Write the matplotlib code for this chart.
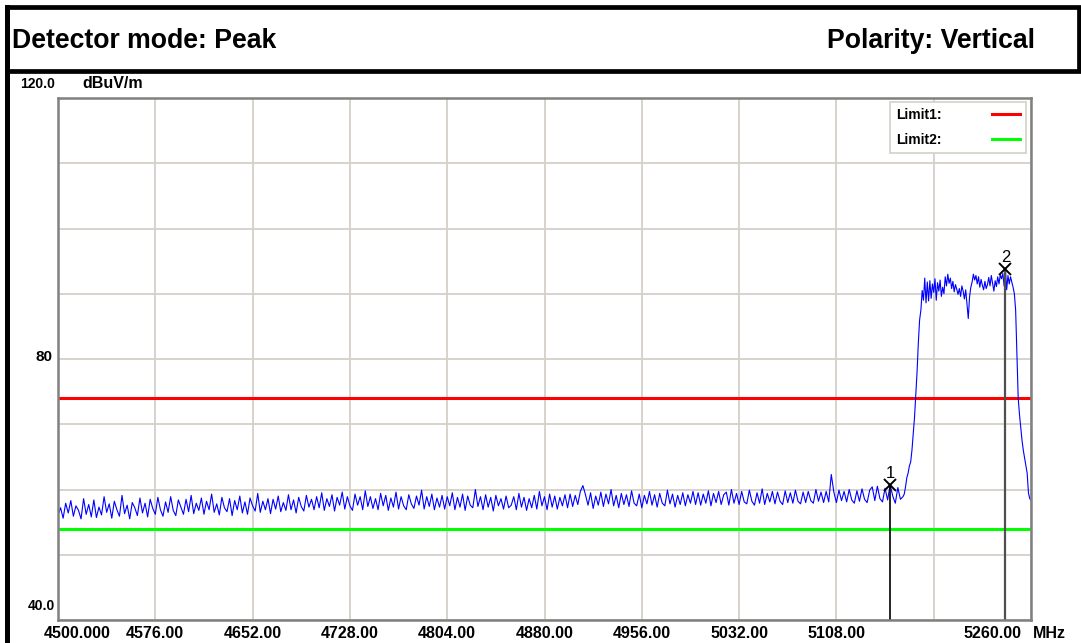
import matplotlib.pyplot as plt
from matplotlib.lines import Line2D
from matplotlib.patches import Rectangle
import numpy as np

# Header texts
detector_text = "Detector mode: Peak"
polarity_text = "Polarity: Vertical"

# Axis range / labels
y_unit = "dBuV/m"
x_unit = "MHz"
y_min, y_max = 40.0, 120.0
y_labels = {120.0: "120.0", 80.0: "80", 40.0: "40.0"}
x_grid = [4500, 4576, 4652, 4728, 4804, 4880, 4956, 5032, 5108, 5184, 5260]
x_label_vals = [4500, 4576, 4652, 4728, 4804, 4880, 4956, 5032, 5108, 5260]
x_label_txt = ["4500.000", "4576.00", "4652.00", "4728.00", "4804.00",
               "4880.00", "4956.00", "5032.00", "5108.00", "5260.00"]

# Limits
limit1 = 74.0
limit2 = 54.0

# Markers
marker_names = ["1", "2"]
marker_freqs = [5150.0, 5240.0]
marker_levels = [60.7, 93.8]

# Trace, 4500..5158 MHz in 2 MHz steps
trace_lo = [
    56.0, 57.2, 55.6, 57.9, 56.4, 58.3, 55.9, 57.5, 56.8, 55.5, 58.6, 56.2, 57.7, 55.8, 58.4, 55.7, 57.3, 56.1, 58.9, 56.5,
    57.8, 55.6, 58.2, 56.9, 55.9, 59.1, 56.3, 57.6, 55.5, 58.0, 57.2, 56.0, 58.7, 56.4, 57.9, 55.8, 58.5, 57.1, 56.2, 58.8,
    56.9, 55.9, 58.1, 56.5, 58.9, 56.8, 56.0, 58.4, 57.3, 56.2,
    58.5, 56.6, 59.1, 56.3, 57.9, 56.8, 58.7, 56.2, 58.2, 56.9, 59.3, 56.5, 57.8, 56.1, 58.8, 57.2, 56.6, 58.6, 56.0, 58.3,
    56.9, 59.0, 56.4, 58.1, 56.2, 58.7, 57.5, 56.7, 59.4, 56.5, 58.2, 56.9, 58.6, 56.3, 58.5, 57.0, 59.0, 56.6, 58.0, 56.8,
    59.2, 56.9, 58.4, 56.4, 58.8, 57.4, 56.7, 59.1, 57.3, 58.5,
    56.9, 58.9, 57.2, 59.5, 56.8, 58.6, 57.4, 59.2, 56.7, 58.8, 57.6, 59.6, 57.0, 58.9, 57.5, 56.8, 59.3, 57.6, 58.9, 56.9,
    59.8, 57.4, 58.9, 57.1, 58.6, 56.9, 59.4, 57.5, 59.1, 56.8, 58.7, 57.3, 59.6, 57.0, 58.9, 57.5, 56.9, 59.2, 57.8, 57.1,
    59.0, 57.6, 59.9, 57.0, 58.9, 57.4, 59.3, 56.9, 58.7, 57.3,
    59.1, 57.0, 58.9, 57.5, 59.5, 56.9, 58.8, 57.3, 59.3, 56.8, 59.0, 57.6, 57.2, 60.0, 57.4, 58.9, 56.9, 59.2, 57.3, 58.8,
    56.7, 59.1, 57.5, 58.6, 57.0, 59.0, 57.2, 57.6, 58.9, 56.9, 59.4, 57.3, 58.8, 56.8, 58.6, 57.2, 59.1, 57.0, 59.7, 57.5,
    58.9, 56.9, 59.3, 57.3, 59.0, 57.0, 58.8, 57.5, 59.2, 57.2,
    59.3, 57.4, 59.1, 57.7, 59.7, 60.6, 59.2, 57.6, 59.5, 57.1, 59.0, 57.6, 59.6, 57.4, 59.3, 57.8, 60.0, 57.5, 59.1, 57.2,
    59.4, 57.7, 59.2, 57.4, 59.8, 57.9, 57.5, 59.3, 57.2, 59.1, 57.8, 59.7, 57.6, 59.2, 57.3, 59.4, 57.9, 57.5, 59.9, 57.8,
    59.3, 57.3, 59.1, 57.7, 59.5, 57.5, 59.2, 57.9, 59.7, 57.7,
    59.5, 57.6, 59.3, 57.9, 59.8, 57.5, 59.4, 58.0, 59.7, 57.7, 59.2, 59.6, 57.6, 60.0, 57.9, 59.4, 57.7, 59.7, 58.1, 57.8,
    59.9, 58.2, 57.6, 59.5, 57.9, 60.1, 57.7, 59.4, 58.1, 59.7, 57.8, 59.6, 58.2, 57.7, 59.8, 58.0, 59.5, 57.9, 59.9, 58.2,
    57.8, 59.6, 58.0, 59.7, 58.3, 57.9, 60.0, 58.2, 59.6, 58.0,
    59.7, 58.1, 62.3, 59.6, 58.0, 59.9, 58.3, 59.7, 58.1, 60.0, 58.4, 57.9, 59.8, 58.2, 60.1, 58.5, 58.0, 59.9, 60.4, 58.3,
    60.5, 58.6, 58.1, 60.2, 58.4, 60.7, 59.0, 57.9, 60.3, 58.5,
]
# Trace, 5160..5260 MHz in 1 MHz steps
trace_hi = [
    58.9, 59.3, 60.4, 61.8, 62.5, 63.6, 64.2, 66.0, 68.5, 71.0, 74.5, 78.0, 82.5, 86.0, 87.5, 90.5, 89.0,
    92.4, 88.6, 91.8, 88.9, 92.0, 89.3, 91.5, 90.2, 92.3, 89.0, 91.7, 90.4, 92.1, 89.6, 91.0, 90.0, 92.6, 91.2, 93.0, 91.6,
    92.4, 90.8, 91.9, 90.3, 91.4, 90.7, 89.9, 90.8, 89.6, 91.2, 90.4, 89.2, 90.6, 88.4, 86.2, 89.5, 91.0, 91.8, 93.0, 92.1,
    92.8, 91.5, 92.6, 91.0, 92.2, 91.3, 90.6, 91.9, 90.8, 91.4, 92.5, 91.2, 92.8, 91.6, 90.4, 92.0, 91.1, 92.6, 91.5, 92.9,
    92.3, 93.1, 91.2, 93.8, 90.6, 92.8, 91.5, 92.6, 91.8, 91.0,
    90.0, 87.5, 81.0, 74.0, 71.5, 69.5, 67.5, 66.0, 64.8, 63.5, 62.5, 59.5, 58.6, 58.4,
]

freq = np.concatenate([np.arange(4500, 5160, 2), np.arange(5160, 5160 + len(trace_hi), 1)])
level = np.array(trace_lo + trace_hi)

lab_font = 'Liberation Sans'
W, H = 1081, 643

fig = plt.figure(figsize=(W / 100, H / 100), dpi=100)
fig.patch.set_facecolor('white')

# header frame
fig.add_artist(Rectangle((7.5 / W, 1 - 70.8 / H), (1079 - 7.5) / W, (70.8 - 7) / H,
                         transform=fig.transFigure, fill=False, edgecolor='black', lw=3.4))
fig.add_artist(Line2D([7.5 / W, 7.5 / W], [0, 1 - 7 / H], transform=fig.transFigure,
                      color='black', lw=3.6))
fig.text(12 / W, 1 - 48 / H, detector_text, fontsize=19.2, fontweight='bold',
         family='Liberation Sans', va='baseline', ha='left')
fig.text(1035 / W, 1 - 48 / H, polarity_text, fontsize=19.2, fontweight='bold',
         family='Liberation Sans', va='baseline', ha='right')

ax = fig.add_axes([58 / W, (H - 620) / H, 973 / W, 522 / H])
ax.set_xlim(x_grid[0], x_grid[-1])
ax.set_ylim(y_min, y_max)
ax.set_xticks(x_grid)
ax.set_yticks(np.arange(y_min, y_max + 1, 10))
ax.tick_params(length=0, labelbottom=False, labelleft=False)
ax.grid(True, color='#d4d0c8', lw=1.3)
ax.set_axisbelow(True)
for s in ax.spines.values():
    s.set_color('#808080')
    s.set_linewidth(1.8)

# limit lines
l1 = ax.axhline(limit1, color='#ff0000', lw=2.2)
l2 = ax.axhline(limit2, color='#00ff00', lw=2.2)

# trace
ax.plot(freq, level, color='#0000ff', lw=0.8)

# markers
ax.vlines(marker_freqs[0], y_min, marker_levels[0], color='black', lw=1.2)
ax.vlines(marker_freqs[1], y_min, marker_levels[1], color='#505050', lw=1.6)
ax.plot(marker_freqs, marker_levels, 'x', color='black', ms=9, mew=1.4)
for name, f, v in zip(marker_names, marker_freqs, marker_levels):
    ax.annotate(name, xy=(f, v), xytext=(0, 7), textcoords='offset pixels',
                ha='center', va='baseline', fontsize=12, family=lab_font)

# y labels
ax.annotate(y_labels[120.0], xy=(0, 120.0), xycoords=('axes fraction', 'data'),
            xytext=(-3, 10), textcoords='offset pixels', ha='right', va='baseline',
            fontsize=10, fontweight='bold', family=lab_font)
ax.annotate(y_unit, xy=(0, 120.0), xycoords=('axes fraction', 'data'),
            xytext=(24, 10), textcoords='offset pixels', ha='left', va='baseline',
            fontsize=11.5, fontweight='bold', family=lab_font)
ax.annotate(y_labels[80.0], xy=(0, 80.0), xycoords=('axes fraction', 'data'),
            xytext=(-6, -2), textcoords='offset pixels', ha='right', va='baseline',
            fontsize=11, fontweight='bold', family=lab_font)
ax.annotate(y_labels[40.0], xy=(0, 40.0), xycoords=('axes fraction', 'data'),
            xytext=(-3, 10), textcoords='offset pixels', ha='right', va='baseline',
            fontsize=10, fontweight='bold', family=lab_font)

# x labels
for i, (v, t) in enumerate(zip(x_label_vals, x_label_txt)):
    if i == 0:
        ha, dx = 'left', -14
    elif i == len(x_label_vals) - 1:
        ha, dx = 'right', -10
    else:
        ha, dx = 'center', 0
    ax.annotate(t, xy=(v, 0), xycoords=('data', 'axes fraction'), xytext=(dx, -18),
                textcoords='offset pixels', ha=ha, va='baseline',
                fontsize=11.5, fontweight='bold', family=lab_font)
ax.annotate(x_unit, xy=(1, 0), xycoords='axes fraction', xytext=(2, -18),
            textcoords='offset pixels', ha='left', va='baseline',
            fontsize=11.5, fontweight='bold', family=lab_font, annotation_clip=False)

leg = ax.legend([l1, l2], ["Limit1:", "Limit2:"], loc='upper right', markerfirst=False,
                bbox_to_anchor=(1 - 5 / 973, 1 - 4 / 522), fancybox=False, framealpha=1,
                edgecolor='#d4d0c8', handlelength=2.0, handletextpad=3.6,
                labelspacing=0.75, borderpad=0.45, borderaxespad=0,
                prop={'family': lab_font, 'weight': 'bold', 'size': 10})
leg.get_frame().set_linewidth(1.2)

fig.savefig("out.png", dpi=100)
